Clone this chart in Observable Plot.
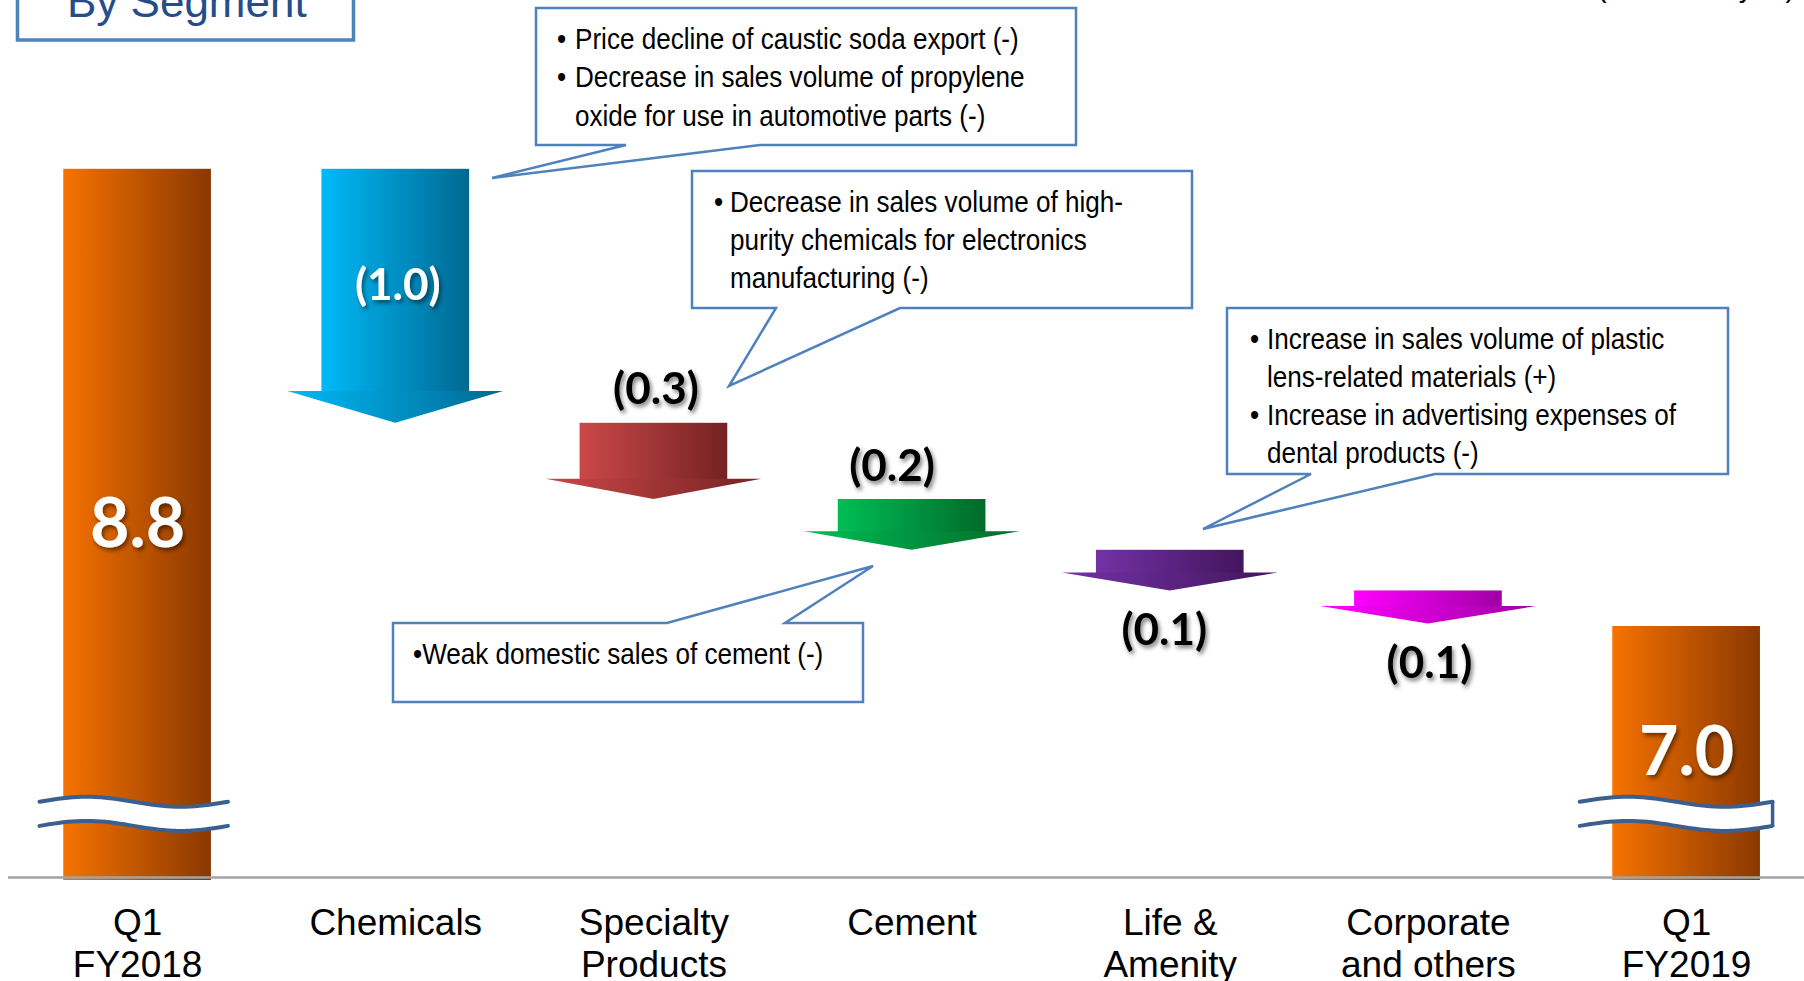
<!DOCTYPE html>
<html>
<head>
<meta charset="utf-8">
<script src="https://cdn.jsdelivr.net/npm/d3@7"></script>
<script src="https://cdn.jsdelivr.net/npm/@observablehq/plot@0.6"></script>
<style>
html, body { margin: 0; padding: 0; background: #fff; overflow: hidden; }
#chart { width: 1804px; height: 981px; overflow: hidden; position: relative; }
</style>
</head>
<body>
<div id="chart"></div>
<script>
// ---------- data ----------
const categories = ["Q1\nFY2018", "Chemicals", "Specialty\nProducts", "Cement", "Life &\nAmenity", "Corporate\nand others", "Q1\nFY2019"];
const kinds = ["total", "delta", "delta", "delta", "delta", "delta", "total"];
const values = [8.8, -1.0, -0.30, -0.20, -0.16, -0.13, 7.0];
const valueLabels = ["8.8", "(1.0)", "(0.3)", "(0.2)", "(0.1)", "(0.1)", "7.0"];
const axisStart = 6.0; // broken axis: bars start here
const unitText = "(Billions of yen)";
const titleText = "By Segment";

// ---------- styles ----------
const gradientStops = [
  ["#F67200", "#8A3800"],
  ["#00BAF8", "#006892"],
  ["#CC4848", "#752222"],
  ["#00BF55", "#006A2A"],
  ["#7432A6", "#42155D"],
  ["#FF00FF", "#A000A6"],
  ["#F67200", "#8A3800"]
];
const labelPlacement = ["center", "inside", "above", "above", "below", "below", "center"];
const labelShift = [0, 2, 2, -20, -6, 1, 0];
const SHAFT = 0.286, HEAD = 0.418;
const STEP = 258.17, PX_PER_UNIT = 254, BOTTOM = 880;
const SANS = "'Liberation Sans', Arial, sans-serif";

// ---------- waterfall rows ----------
const rows = [];
let level = 0;
values.forEach((v, i) => {
  if (kinds[i] === "total") {
    rows.push({i, kind: "total", v, top: v, bottom: axisStart});
    level = v;
  } else {
    const top = level, tip = level + v;
    rows.push({i, kind: "delta", v, top, bottom: tip});
    level = tip;
  }
});

const marks = [];
rows.forEach(r => {
  const fill = `url(#grad${r.i})`;
  if (r.kind === "total") {
    marks.push(Plot.rect([r], {x1: d => d.i - SHAFT, x2: d => d.i + SHAFT, y1: d => d.bottom, y2: d => d.top, fill}));
  } else {
    const head = 0.06 + 0.065 * Math.abs(r.v);
    const neck = r.bottom + head;
    marks.push(Plot.rect([r], {x1: d => d.i - SHAFT, x2: d => d.i + SHAFT, y1: () => neck - 0.003, y2: d => d.top, fill}));
    marks.push(Plot.areaY(
      [{x: r.i - HEAD, y1: neck, y2: neck}, {x: r.i, y1: neck, y2: r.bottom}, {x: r.i + HEAD, y1: neck, y2: neck}],
      {x: "x", y1: "y1", y2: "y2", fill, curve: "linear"}
    ));
  }
});

// axis-break symbols on the two total bars
const breaks = [{i: 0, l: -0.38, r: 0.35, close: false}, {i: 6, l: -0.414, r: 0.333, close: true}];
const breakTop = 6.31, breakGap = 0.095, amp = 0.0197;
breaks.forEach(b => {
  const n = 40;
  const pts = d3.range(0, n + 1).map(k => {
    const t = k / n, w = amp * Math.sin(2 * Math.PI * t);
    return {x: b.i + b.l + t * (b.r - b.l), top: breakTop + w, bot: breakTop - breakGap + w};
  });
  marks.push(Plot.areaY(pts, {x: "x", y1: "bot", y2: "top", fill: "white", curve: "linear"}));
  marks.push(Plot.line(pts, {x: "x", y: "top", stroke: "#3B5F8F", strokeWidth: 4}));
  marks.push(Plot.line(pts, {x: "x", y: "bot", stroke: "#3B5F8F", strokeWidth: 4}));
  if (b.close) marks.push(Plot.ruleX([pts[n]], {x: "x", y1: "bot", y2: "top", stroke: "#3B5F8F", strokeWidth: 3.5}));
});

// baseline
marks.push(Plot.ruleY([axisStart], {dy: -3, stroke: "#A3A3A3", strokeWidth: 2.5}));

// value labels
rows.forEach(r => {
  const p = labelPlacement[r.i];
  let y, dy = 0, fill = "white", size = 44;
  if (p === "center") { y = (r.top + r.bottom) / 2; size = 68; }
  else if (p === "inside") { y = r.top + r.v * 0.46; }
  else if (p === "above") { y = r.top; dy = -33; fill = "black"; }
  else { y = r.bottom; dy = 40; fill = "black"; }
  marks.push(Plot.text([r], {
    x: d => d.i, y: () => y, text: d => valueLabels[d.i], dy, dx: labelShift[r.i], fill,
    fontSize: size, fontWeight: "bold", fontFamily: "Lato, 'Open Sans', sans-serif",
    textAnchor: "middle", lineAnchor: "middle"
  }));
});

// category labels
marks.push(Plot.text(categories, {
  x: (d, i) => i, y: () => axisStart, text: d => d, dy: 25,
  lineAnchor: "top", lineHeight: 1.13, fontSize: 37,
  fontFamily: SANS, fill: "black", textAnchor: "middle"
}));

const plot = Plot.plot({
  width: 1804,
  height: 981,
  marginTop: 0, marginRight: 0, marginBottom: 101, marginLeft: 8,
  x: {type: "linear", axis: null, domain: [-0.5, 6.5], range: [8, 8 + 7 * STEP]},
  y: {type: "linear", axis: null, domain: [axisStart, 9.5], range: [BOTTOM, BOTTOM - 3.5 * PX_PER_UNIT]},
  style: {background: "white", overflow: "hidden"},
  marks
});
document.getElementById("chart").appendChild(plot);

// ---------- defs: gradients + shadow ----------
const svg = d3.select(plot);
const defs = svg.insert("defs", ":first-child");
gradientStops.forEach((s, i) => {
  const g = defs.append("linearGradient").attr("id", `grad${i}`).attr("x1", 0).attr("x2", 1).attr("y1", 0).attr("y2", 0);
  g.append("stop").attr("offset", "0%").attr("stop-color", s[0]);
  g.append("stop").attr("offset", "100%").attr("stop-color", s[1]);
});
const f = defs.append("filter").attr("id", "shadow").attr("x", "-20%").attr("y", "-30%").attr("width", "150%").attr("height", "170%");
f.append("feDropShadow").attr("dx", 2).attr("dy", 3).attr("stdDeviation", 2).attr("flood-color", "#000").attr("flood-opacity", 0.5);
svg.selectAll('g[font-weight="bold"]').attr("filter", "url(#shadow)");

// ---------- annotations (callouts, title, unit) ----------
const callouts = [
  {shape: [[536,8],[1076,8],[1076,145],[760,145],[492,178],[626,145],[536,145]], bulletX: 557, textX: 575,
   lines: [[true, "Price decline of caustic soda export (-)", 49], [true, "Decrease in sales volume of propylene", 87], [false, "oxide for use in automotive parts (-)", 126]]},
  {shape: [[692,171],[1192,171],[1192,308],[900,308],[729,386],[776,308],[692,308]], bulletX: 714, textX: 730,
   lines: [[true, "Decrease in sales volume of high-", 212], [false, "purity chemicals for electronics", 249.5], [false, "manufacturing (-)", 288]]},
  {shape: [[1227,308],[1728,308],[1728,474],[1435,474],[1203,529],[1311,474],[1227,474]], bulletX: 1250, textX: 1267,
   lines: [[true, "Increase in sales volume of plastic", 349], [false, "lens-related materials (+)", 387], [true, "Increase in advertising expenses of", 425], [false, "dental products (-)", 462.5]]},
  {shape: [[393,623],[667,623],[873,566],[785,623],[863,623],[863,702],[393,702]], bulletX: 413, textX: 413,
   lines: [[false, "\u2022Weak domestic sales of cement (-)", 664]]}
];
const ann = svg.append("g").attr("text-anchor", "start");
callouts.forEach(c => {
  ann.append("path").attr("d", "M" + c.shape.map(p => p.join(",")).join("L") + "Z")
    .attr("fill", "white").attr("stroke", "#4F81BD").attr("stroke-width", 2.5).attr("stroke-linejoin", "miter");
  c.lines.forEach(([b, t, y]) => {
    if (b) ann.append("text").attr("transform", `translate(${c.bulletX},${y}) scale(0.9,1)`).attr("text-anchor", "start")
      .attr("font-family", SANS).attr("font-size", 29).attr("fill", "#000").text("\u2022");
    ann.append("text").attr("transform", `translate(${c.textX},${y}) scale(0.9,1)`).attr("text-anchor", "start")
      .attr("font-family", SANS).attr("font-size", 29).attr("fill", "#000").text(t);
  });
});
ann.append("rect").attr("x", 17.5).attr("y", -80).attr("width", 336).attr("height", 120)
  .attr("fill", "white").attr("stroke", "#4F81BD").attr("stroke-width", 3.5);
ann.append("text").attr("x", 67).attr("y", 17).attr("text-anchor", "start").attr("font-family", SANS)
  .attr("font-size", 44).attr("fill", "#264D8A").text(titleText);
ann.append("text").attr("x", 1597).attr("y", -3).attr("text-anchor", "start").attr("font-family", SANS)
  .attr("font-size", 29).attr("fill", "#000").text(unitText);
</script>
</body>
</html>
